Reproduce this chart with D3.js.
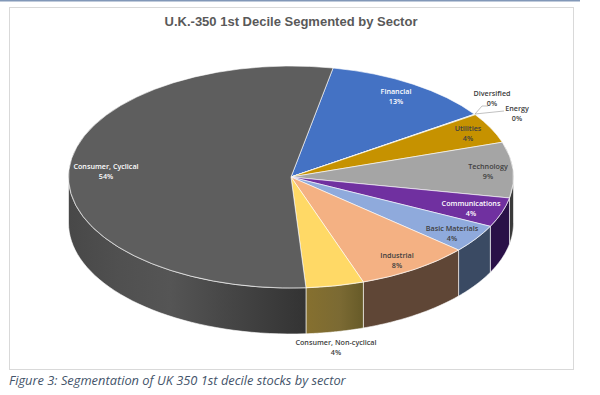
<!DOCTYPE html>
<html>
<head>
    <script src="https://cdn.jsdelivr.net/npm/d3@7/dist/d3.min.js"></script>
    <style type="text/css">
        html, body { margin: 0; padding: 0; background: #fff; overflow: hidden; }
        .title { font: bold 13px "Liberation Sans", sans-serif; fill: #595959; text-anchor: middle; }
        .label { font: 600 7.2px "Open Sans", sans-serif; text-anchor: middle; }
        .caption { font: italic 12.85px "Open Sans", sans-serif; fill: #44546a; }
        .slice, .wall { stroke: #fff; stroke-width: 0.8; stroke-opacity: 0.75; vector-effect: non-scaling-stroke; }
    </style>
</head>
<body>
    <svg id="chart" width="600" height="395"></svg>
    <script>
        var sectors = ["Financial", "Diversified", "Energy", "Utilities", "Technology", "Communications",
            "Basic Materials", "Industrial", "Consumer, Non-cyclical", "Consumer, Cyclical"];
        // angular shares, the printed labels are rounded
        var shares = [12.4, 0.05, 0.05, 4.4, 8.1, 4.3, 4.1, 8.3, 4.2, 54.1];
        var percentLabels = ["13%", "0%", "0%", "4%", "9%", "4%", "4%", "8%", "4%", "54%"];
        var topColors = ["#4472c4", "#a5a5a5", "#70ad47", "#c69200", "#a5a5a5", "#7030a0",
            "#8faadc", "#f4b183", "#ffd966", "#5e5e5e"];
        var wallColors = ["#2b4a80", "#666", "#466", "#7d5c00", "#3a3a3a", "#2a1148",
            "#3a4a63", "#5f4636", "url(#wallNonCyc)", "url(#wallCyc)"];
        var labelColors = ["#fff", "#404040", "#404040", "#404040", "#404040", "#fff",
            "#404040", "#404040", "#404040", "#fff"];

        // where each label sits, by sector index
        var labelPos = [[396, 94], [492, 96], [517, 111], [468, 131], [488, 169], [471, 206],
            [452, 231], [397, 258], [336, 345], [106, 169]];
        var leaders = [
            { index: 1, path: "M475,114 L482,106 L488,106" },
            { index: 2, path: "M475,114 L504,111" }
        ];

        var width = 600, height = 395;
        var cx = 291, cy = 177, rx = 222.5, ry = 111, depth = 46;
        var startAngle = 10.9 * Math.PI / 180;

        var svg = d3.select("#chart");

        svg.append("rect").attr("x", 0).attr("y", 0).attr("width", 580).attr("height", 1.5).attr("fill", "#8298b8");
        svg.append("rect").attr("x", 9.5).attr("y", 7.5).attr("width", 564).attr("height", 362)
            .attr("fill", "#fff").attr("stroke", "#d9d9d9");

        svg.append("text").attr("class", "title").attr("x", 291).attr("y", 26)
            .text("U.K.-350 1st Decile Segmented by Sector");

        var defs = svg.append("defs");
        function gradient(id, stops) {
            var g = defs.append("linearGradient").attr("id", id)
                .attr("gradientUnits", "userSpaceOnUse")
                .attr("x1", stops[0][0]).attr("x2", stops[stops.length - 1][0]).attr("y1", 0).attr("y2", 0);
            var span = stops[stops.length - 1][0] - stops[0][0];
            stops.forEach(function (s) {
                g.append("stop").attr("offset", (s[0] - stops[0][0]) / span).attr("stop-color", s[1]);
            });
        }
        gradient("wallCyc", [[69, "#484848"], [120, "#505050"], [170, "#555"], [220, "#484848"], [306, "#333"]]);
        gradient("wallNonCyc", [[306, "#86702f"], [340, "#7b6a33"], [364, "#665a28"]]);

        var pie = d3.pie().sort(null).value(function (d) { return d; })
            .startAngle(startAngle).endAngle(startAngle + 2 * Math.PI);
        var arcs = pie(shares);
        var arc = d3.arc().innerRadius(0).outerRadius(rx);

        // the outer wall only shows on the front half of the ellipse
        function wallPath(d) {
            var front = [];
            [0, 2 * Math.PI].forEach(function (turn) {
                var a0 = Math.max(d.startAngle, Math.PI / 2 + turn),
                    a1 = Math.min(d.endAngle, 3 * Math.PI / 2 + turn);
                if (a1 > a0) front.push([a0, a1]);
            });
            return front.map(function (r) {
                var steps = d3.range(0, 41).map(function (i) { return r[0] + (r[1] - r[0]) * i / 40; });
                var top = steps.map(function (a) { return [cx + rx * Math.sin(a), cy - ry * Math.cos(a)]; });
                var bottom = top.slice().reverse().map(function (p) { return [p[0], p[1] + depth]; });
                return d3.line()(top.concat(bottom)) + "Z";
            }).join("");
        }

        svg.append("g").selectAll("path")
            .data(arcs).enter().append("path")
            .attr("class", "wall")
            .attr("d", wallPath)
            .attr("fill", function (d, i) { return wallColors[i]; });

        svg.append("g")
            .attr("transform", "translate(" + cx + "," + cy + ") scale(1," + (ry / rx) + ")")
            .selectAll("path")
            .data(arcs).enter().append("path")
            .attr("class", "slice")
            .attr("d", arc)
            .attr("fill", function (d, i) { return topColors[i]; });

        svg.append("g").selectAll("path")
            .data(leaders).enter().append("path")
            .attr("d", function (d) { return d.path; })
            .attr("fill", "none").attr("stroke", "#a6a6a6").attr("stroke-width", 0.7);

        var labels = svg.append("g").selectAll("text")
            .data(sectors).enter().append("text")
            .attr("class", "label")
            .attr("x", function (d, i) { return labelPos[i][0]; })
            .attr("y", function (d, i) { return labelPos[i][1]; })
            .attr("fill", function (d, i) { return labelColors[i]; });
        labels.append("tspan").text(function (d) { return d; });
        labels.append("tspan")
            .attr("x", function (d, i) { return labelPos[i][0]; })
            .attr("dy", 10)
            .text(function (d, i) { return percentLabels[i]; });

        svg.append("text").attr("class", "caption").attr("x", 9).attr("y", 385)
            .text("Figure 3: Segmentation of UK 350 1st decile stocks by sector");
    </script>
</body>
</html>
